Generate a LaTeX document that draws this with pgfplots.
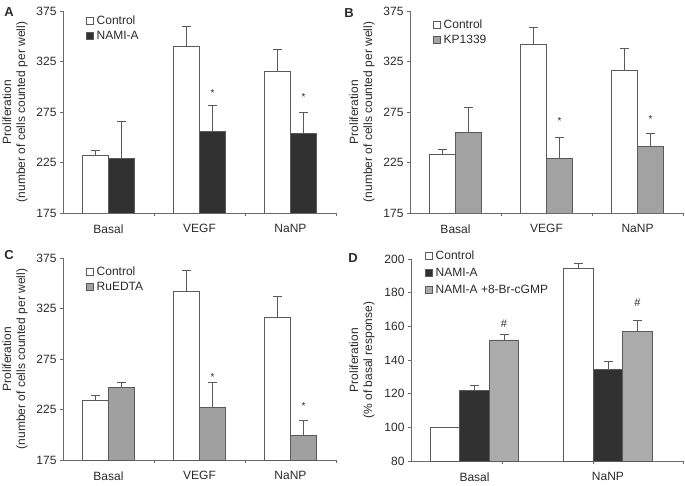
\documentclass[border=0pt]{standalone}
\usepackage{fontspec}
\setmainfont{Liberation Sans}
\usepackage{pgfplots}
\pgfplotsset{compat=1.18}
\definecolor{txt}{HTML}{2A2A2A}
\definecolor{axc}{HTML}{6A6A6A}
\definecolor{edge}{HTML}{5A5A5A}
\definecolor{dark}{HTML}{313131}
\definecolor{gB}{HTML}{A2A2A2}
\definecolor{gC}{HTML}{A0A0A0}
\definecolor{gD}{HTML}{ABABAB}
\newcommand{\fs}{\fontsize{12}{14}\selectfont}
\pgfplotsset{
  panel/.style={
    scale only axis, width=273pt, height=202pt,
    axis x line*=bottom, axis y line*=left,
    axis line style={axc, line width=0.6pt},
    tick align=outside, major tick length=3pt, minor tick length=3pt,
    tick style={axc, line width=0.6pt},
    major x tick style={draw=none},
    xmin=-0.5, xmax=2.5, xtick={0,1,2}, xticklabels={Basal,VEGF,NaNP},
    minor xtick={0.5,1.5,2.5},
    ymin=175, ymax=375, ytick={175,225,275,325,375},
    /pgf/number format/assume math mode=true,
    ticklabel style={font=\fs, text=txt},
    xticklabel style={yshift=-5pt},
    every axis y label/.style={at={(axis description cs:-0.176,0.5)}, rotate=90, anchor=center, align=center, font=\fs, text=txt},
    ybar, bar width=26pt,
    legend image code/.code={\draw[#1] (0pt,-3.2pt) rectangle (6.4pt,3.2pt);},
    legend cell align=left,
    legend style={draw=none, fill=none, inner sep=0pt, font=\fs, text=txt, row sep=1.5pt,
      nodes={inner sep=1pt, text height=9pt, text depth=2.5pt},
      /tikz/every odd column/.append style={column sep=2.5pt},
      at={(axis description cs:0,1)}, anchor=north west},
  },
  eb/.style={error bars/y dir=plus, error bars/y explicit,
    error bars/error bar style={edge, line width=0.6pt},
    error bars/error mark options={rotate=90, edge, mark size=4.5pt, line width=0.6pt}},
  ctl/.style={fill=white, draw=edge, line width=0.6pt, eb},
  drk/.style={fill=dark, draw=dark!80!white, line width=0.6pt, eb},
}
\begin{document}
\begin{tikzpicture}
\useasboundingbox (0,0) rectangle (685pt,485pt);
\node[font=\bfseries\fontsize{13}{13}\selectfont, text=txt] at (9pt,473pt) {A};
\node[font=\bfseries\fontsize{13}{13}\selectfont, text=txt] at (349pt,472pt) {B};
\node[font=\bfseries\fontsize{13}{13}\selectfont, text=txt] at (9pt,230pt) {C};
\node[font=\bfseries\fontsize{13}{13}\selectfont, text=txt] at (353pt,227pt) {D};
% Panel A
\begin{axis}[panel, at={(63pt,272pt)}, anchor=south west,
  ylabel={Proliferation\\(number of cells counted per well)},
  legend style={xshift=23pt, yshift=-3pt}]
\addplot[ctl, bar shift=-13pt] coordinates {(0,232.5) +- (0,4.8) (1,340) +- (0,19.5) (2,315.5) +- (0,21.5)};
\addplot[drk, bar shift=13pt] coordinates {(0,229) +- (0,36.5) (1,256) +- (0,25.5) (2,253.5) +- (0,21)};
\legend{Control,NAMI-A}
\node[font=\fontsize{10}{10}\selectfont, text=txt, xshift=13pt] at (axis cs:1,294) {*};
\node[font=\fontsize{10}{10}\selectfont, text=txt, xshift=13pt] at (axis cs:2,290) {*};
\end{axis}
% Panel B
\begin{axis}[panel, at={(410pt,272pt)}, anchor=south west,
  ylabel={Proliferation\\(number of cells counted per well)},
  legend style={xshift=23pt, yshift=-7pt}]
\addplot[ctl, bar shift=-13pt] coordinates {(0,233.5) +- (0,4.5) (1,342) +- (0,16.5) (2,316) +- (0,22)};
\addplot[fill=gB, draw=edge, line width=0.6pt, eb, bar shift=13pt] coordinates {(0,255) +- (0,24.5) (1,228.8) +- (0,21.3) (2,241) +- (0,13.3)};
\legend{Control,KP1339}
\node[font=\fontsize{10}{10}\selectfont, text=txt, xshift=13pt] at (axis cs:1,266) {*};
\node[font=\fontsize{10}{10}\selectfont, text=txt, xshift=13pt] at (axis cs:2,268) {*};
\end{axis}
% Panel C
\begin{axis}[panel, at={(63pt,25pt)}, anchor=south west,
  ylabel={Proliferation\\(number of cells counted per well)},
  legend style={xshift=23pt, yshift=-7pt}]
\addplot[ctl, bar shift=-13pt] coordinates {(0,234) +- (0,5) (1,342) +- (0,21) (2,316) +- (0,21)};
\addplot[fill=gC, draw=edge, line width=0.6pt, eb, bar shift=13pt] coordinates {(0,247) +- (0,5) (1,227) +- (0,25) (2,199) +- (0,15)};
\legend{Control,RuEDTA}
\node[font=\fontsize{10}{10}\selectfont, text=txt, xshift=13pt] at (axis cs:1,257) {*};
\node[font=\fontsize{10}{10}\selectfont, text=txt, xshift=13pt] at (axis cs:2,228) {*};
\end{axis}
% Panel D
\begin{axis}[panel, at={(411pt,24pt)}, anchor=south west, width=272pt,
  xmin=-0.476, xmax=1.562, xtick={0,1}, xticklabels={Basal,NaNP},
  minor xtick={0.206,0.888,1.562},
  ymin=80, ymax=200, ytick={80,100,...,200},
  bar width=29.5pt,
  every axis y label/.style={at={(axis description cs:-0.18,0.5)}, rotate=90, anchor=center, align=center, font=\fs, text=txt},
  ylabel={Proliferation\\(\% of basal response)},
  legend style={xshift=14pt, yshift=10pt, row sep=3.5pt}]
\addplot[ctl, bar shift=-29.5pt] coordinates {(0,100) +- (0,0) (1,194.7) +- (0,2.9)};
\addplot[drk, bar shift=0pt] coordinates {(0,122) +- (0,3.2) (1,134.4) +- (0,4.9)};
\addplot[fill=gD, draw=edge, line width=0.6pt, eb, bar shift=29.5pt] coordinates {(0,152) +- (0,3.3) (1,157) +- (0,6.3)};
\legend{Control,NAMI-A,NAMI-A +8-Br-cGMP}
\node[font=\fontsize{11}{11}\selectfont, text=txt, xshift=29.5pt] at (axis cs:0,161.5) {\#};
\node[font=\fontsize{11}{11}\selectfont, text=txt, xshift=29.5pt] at (axis cs:1,174) {\#};
\end{axis}
\end{tikzpicture}
\end{document}
